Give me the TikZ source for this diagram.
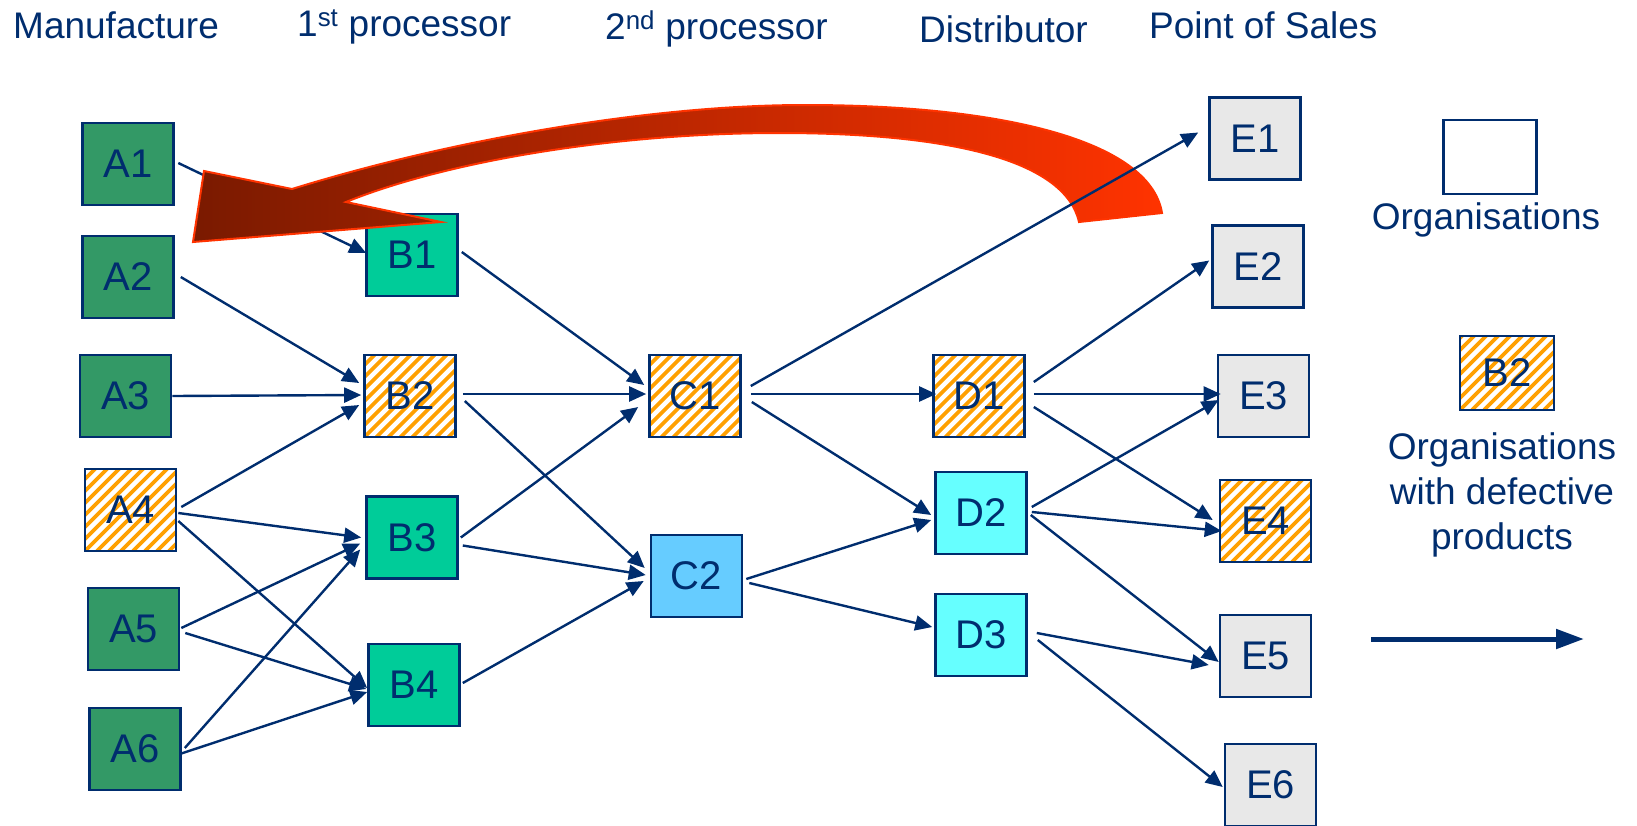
\documentclass[tikz,border=0pt]{standalone}
\usepackage{fontspec}
\setmainfont{Liberation Sans}
\usetikzlibrary{arrows.meta,calc}
\definecolor{navy}{RGB}{0,45,110}
\definecolor{agreen}{RGB}{51,153,102}
\definecolor{bteal}{RGB}{0,204,153}
\definecolor{cblue}{RGB}{102,204,255}
\definecolor{dcyan}{RGB}{102,255,255}
\definecolor{egray}{RGB}{232,232,232}
\definecolor{hatchorange}{RGB}{255,160,0}
\definecolor{reddark}{RGB}{122,26,0}
\definecolor{redbright}{RGB}{255,51,0}
\begin{document}
\begin{tikzpicture}[x=1pt,y=-1pt,
  org/.style={draw=navy, line width=2.6pt, minimum width=91pt, minimum height=82pt,
    inner sep=0pt, text=navy, font=\fontsize{40}{48}\selectfont},
  hatch/.style={fill=white, path picture={
    \foreach \k in {-8,...,9}{
      \draw[hatchorange, line width=3.6pt]
        ([xshift=\k*12pt]path picture bounding box.south west) -- ++(130,-130);}}},
  hdr/.style={text=navy, inner sep=0pt, font=\fontsize{37}{44}\selectfont},
  legtext/.style={text=navy, inner sep=0pt, font=\fontsize{37}{45}\selectfont},
  conn/.style={draw=navy, line width=2.4pt, -{Triangle[length=17pt,width=15pt]}},
  bigarrow/.style={shading=axis, left color=reddark, right color=redbright,
    draw=redbright, line width=2pt, line join=miter}
]
\useasboundingbox (0,0) rectangle (1637,825);

% headers
\node[hdr, anchor=base west] (h1) at (13,38) {Manufacture};
\node[hdr, anchor=base west] (h2) at (297,36) {1\textsuperscript{st} processor};
\node[hdr, anchor=base west] (h3) at (605,39) {2\textsuperscript{nd} processor};
\node[hdr, anchor=base west] (h4) at (919,42) {Distributor};
\node[hdr, anchor=base west] (h5) at (1149,38) {Point of Sales};

% nodes
\node[org, fill=agreen] (A1) at (128,164) {A1};
\node[org, fill=agreen] (A2) at (128,277) {A2};
\node[org, fill=agreen] (A3) at (125.5,396) {A3};
\node[org, hatch] (A4) at (130.5,510) {A4};
\node[org, fill=agreen] (A5) at (133.5,629) {A5};
\node[org, fill=agreen] (A6) at (135,749) {A6};

\node[org, fill=bteal] (B1) at (412,255) {B1};
\node[org, hatch] (B2) at (410,396) {B2};
\node[org, fill=bteal] (B3) at (412,537.5) {B3};
\node[org, fill=bteal] (B4) at (414,685) {B4};

\node[org, hatch] (C1) at (695,396) {C1};
\node[org, fill=cblue] (C2) at (696.5,576) {C2};

\node[org, hatch] (D1) at (979,396) {D1};
\node[org, fill=dcyan] (D2) at (981,513) {D2};
\node[org, fill=dcyan] (D3) at (981,635) {D3};

\node[org, fill=egray] (E1) at (1255,138.5) {E1};
\node[org, fill=egray] (E2) at (1258,266.5) {E2};
\node[org, fill=egray] (E3) at (1263.5,396) {E3};
\node[org, hatch] (E4) at (1265.5,521) {E4};
\node[org, fill=egray] (E5) at (1265.5,656) {E5};
\node[org, fill=egray] (E6) at (1270.5,785) {E6};

% edge under the big arrow
\draw[conn] ($(A1.east)+(3.5,-1)$) -- ($(B1.west)+(1,-2)$);

% big red return arrow
\shadedraw[bigarrow]
  (193,242) -- (204,171) -- (292,189)
  .. controls (450,140) and (650,105) .. (805,105)
  .. controls (1000,105) and (1150,140) .. (1162,213)
  -- (1079,222)
  .. controls (1065,160) and (950,133) .. (779,133)
  .. controls (620,133) and (450,160) .. (346,202)
  -- (441,222) -- cycle;

% A -> B
\draw[conn] ($(A2.east)+(6,0)$) -- ($(B2.west)+(-4,-13)$);
\draw[conn] (A3.east) -- ($(B2.west)+(-2,-1)$);
\draw[conn] ($(A4.east)+(4,-3)$) -- ($(B2.west)+(-4,9)$);
\draw[conn] ($(A4.east)+(1,3)$) -- ($(B3.west)+(-4,0)$);
\draw[conn] ($(A4.east)+(1,11)$) -- ($(B4.west)+(0,3)$);
\draw[conn] ($(A5.east)+(1,-1)$) -- ($(B3.west)+(-5,6)$);
\draw[conn] ($(A5.east)+(5,4)$) -- ($(B4.west)+(-1,4)$);
\draw[conn] ($(A6.east)+(3,-1)$) -- ($(B3.west)+(-5,12)$);
\draw[conn] ($(A6.east)+(-2,5)$) -- ($(B4.west)+(0,7)$);

% B -> C
\draw[conn] ($(B1.east)+(3,-3)$) -- ($(C1.west)+(-4,-11)$);
\draw[conn] ($(B2.east)+(6,-2)$) -- ($(C1.west)+(-2,-2)$);
\draw[conn] ($(B2.east)+(8,5)$) -- ($(C2.west)+(-5,-8)$);
\draw[conn] ($(B3.east)+(2,0)$) -- ($(C1.west)+(-10,11)$);
\draw[conn] ($(B3.east)+(4,8)$) -- ($(C2.west)+(-4,-1)$);
\draw[conn] ($(B4.east)+(2,-2)$) -- ($(C2.west)+(-6,5)$);

% C -> D / E
\draw[conn] ($(C1.east)+(9,-10)$) -- ($(E1.west)+(-10,-6)$);
\draw[conn] ($(C1.east)+(9,-2)$) -- ($(D1.west)+(4,-2)$);
\draw[conn] ($(C1.east)+(10,6)$) -- ($(D2.west)+(-3,2)$);
\draw[conn] ($(C2.east)+(3,3)$) -- ($(D2.west)+(-3,7)$);
\draw[conn] ($(C2.east)+(6,7)$) -- ($(D3.west)+(-2,-8)$);

% D -> E
\draw[conn] ($(D1.east)+(8,-14)$) -- ($(E2.west)+(-2,-6)$);
\draw[conn] ($(D1.east)+(8,-2)$) -- ($(E3.west)+(4,-2)$);
\draw[conn] ($(D1.east)+(8,11)$) -- ($(E4.west)+(-6,-1)$);
\draw[conn] ($(D2.east)+(4,-6)$) -- ($(E3.west)+(2,4)$);
\draw[conn] ($(D2.east)+(4,-1)$) -- ($(E4.west)+(3,10)$);
\draw[conn] ($(D2.east)+(3,2)$) -- ($(E5.west)+(0,6)$);
\draw[conn] ($(D3.east)+(9,-2)$) -- ($(E5.west)+(-10,9)$);
\draw[conn] ($(D3.east)+(10,5)$) -- ($(E6.west)+(-1,2)$);

% legend
\node[org, fill=white, minimum width=93pt, minimum height=74pt] (L1) at (1490,157) {};
\node[legtext, anchor=base] (L1t) at (1486,229) {Organisations};
\node[org, hatch, minimum width=94pt, minimum height=74pt] (L2) at (1507,373) {B2};
\node[legtext, align=center] (L2t) at (1502,495) {Organisations\\with defective\\products};
\coordinate (La) at (1371,639);
\coordinate (Lb) at (1584,639);
\draw[navy, line width=5pt, -{Triangle[length=28pt,width=19pt]}] (La) -- (Lb);
\end{tikzpicture}
\end{document}
